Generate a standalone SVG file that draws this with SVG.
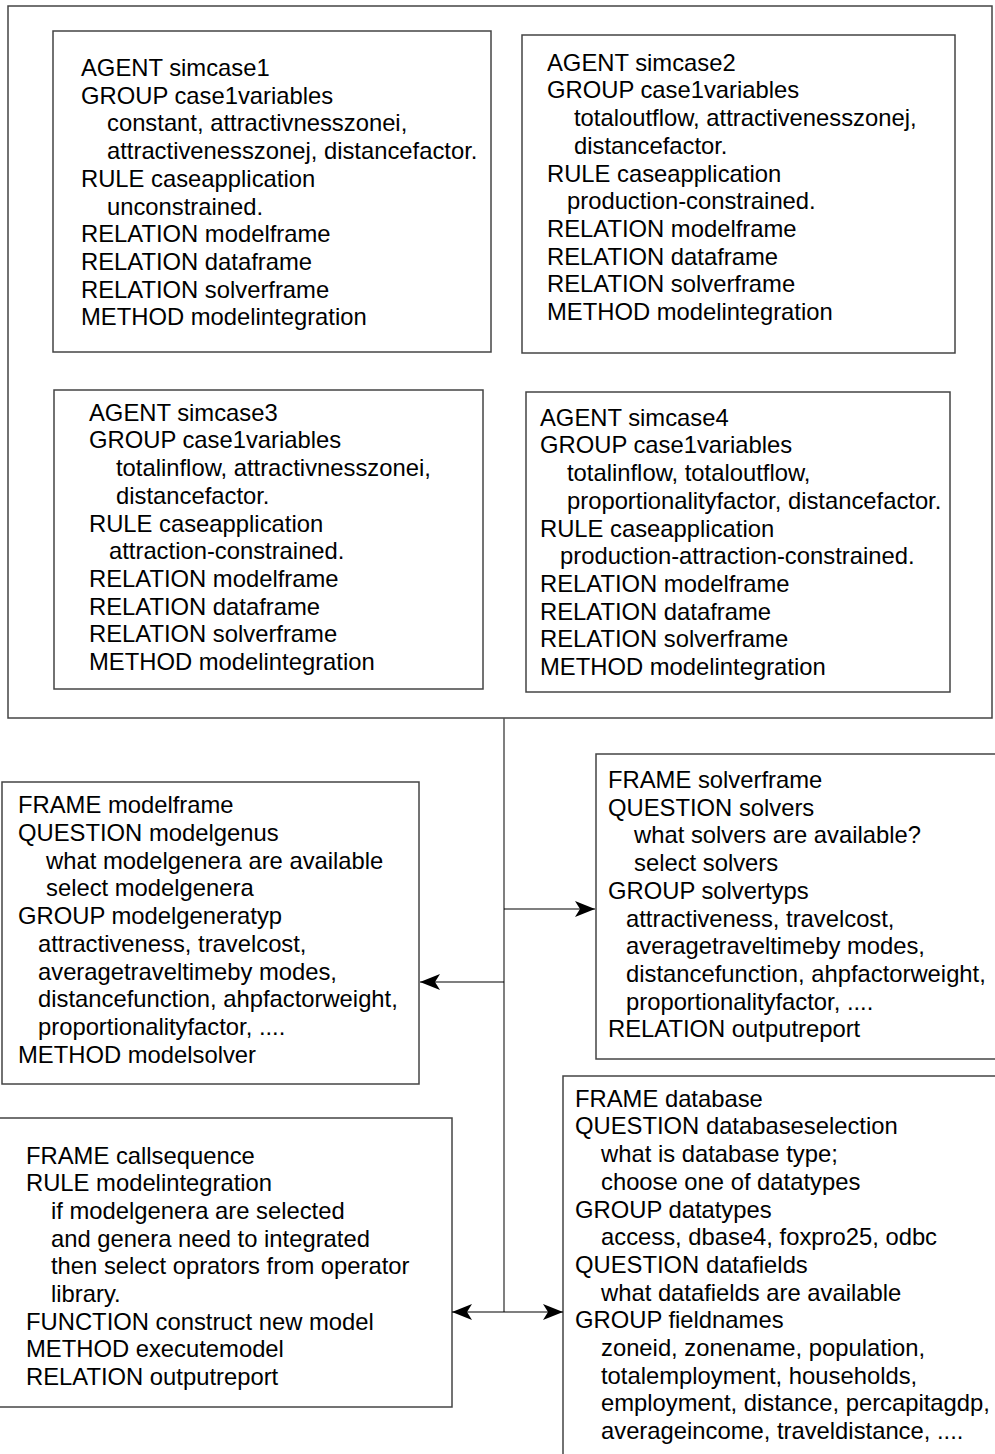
<svg xmlns="http://www.w3.org/2000/svg" width="995" height="1454" viewBox="0 0 995 1454">
<style>
.box{fill:#fff;stroke:#444;stroke-width:1.5}
.t{font-family:"Liberation Sans",Arial,Helvetica,sans-serif;font-size:23.8px;fill:#000}
.conn{stroke:#555;stroke-width:1.5;fill:none}
.arr{stroke:#000;stroke-width:1.2;fill:none}
</style>
<defs>
<marker id="ah" viewBox="0 0 20 16" refX="20" refY="8" markerWidth="20" markerHeight="16" markerUnits="userSpaceOnUse" orient="auto-start-reverse">
<path d="M0,0 L20,8 L0,16 L5,8 Z" fill="#000"/>
</marker>
</defs>
<rect width="995" height="1454" fill="#fff"/>

<g id="agents-container">
<rect class="box" x="8" y="6" width="984" height="712"/>
</g>

<g id="simcase1">
<rect class="box" x="53" y="31" width="438" height="321"/>
<text class="t">
<tspan x="81" y="76">AGENT simcase1</tspan>
<tspan x="81" y="103.7">GROUP case1variables</tspan>
<tspan x="107" y="131.4">constant, attractivnesszonei,</tspan>
<tspan x="107" y="159.1">attractivenesszonej, distancefactor.</tspan>
<tspan x="81" y="186.8">RULE caseapplication</tspan>
<tspan x="107" y="214.5">unconstrained.</tspan>
<tspan x="81" y="242.2">RELATION modelframe</tspan>
<tspan x="81" y="269.9">RELATION dataframe</tspan>
<tspan x="81" y="297.6">RELATION solverframe</tspan>
<tspan x="81" y="325.3">METHOD modelintegration</tspan>
</text>
</g>

<g id="simcase2">
<rect class="box" x="522" y="35" width="433" height="318"/>
<text class="t">
<tspan x="547" y="70.7">AGENT simcase2</tspan>
<tspan x="547" y="98.4">GROUP case1variables</tspan>
<tspan x="574" y="126.1">totaloutflow, attractivenesszonej,</tspan>
<tspan x="574" y="153.8">distancefactor.</tspan>
<tspan x="547" y="181.5">RULE caseapplication</tspan>
<tspan x="567" y="209.2">production-constrained.</tspan>
<tspan x="547" y="236.9">RELATION modelframe</tspan>
<tspan x="547" y="264.6">RELATION dataframe</tspan>
<tspan x="547" y="292.3">RELATION solverframe</tspan>
<tspan x="547" y="320">METHOD modelintegration</tspan>
</text>
</g>

<g id="simcase3">
<rect class="box" x="54" y="390" width="429" height="299"/>
<text class="t">
<tspan x="89" y="420.7">AGENT simcase3</tspan>
<tspan x="89" y="448.4">GROUP case1variables</tspan>
<tspan x="116" y="476.1">totalinflow, attractivnesszonei,</tspan>
<tspan x="116" y="503.8">distancefactor.</tspan>
<tspan x="89" y="531.5">RULE caseapplication</tspan>
<tspan x="109" y="559.2">attraction-constrained.</tspan>
<tspan x="89" y="586.9">RELATION modelframe</tspan>
<tspan x="89" y="614.6">RELATION dataframe</tspan>
<tspan x="89" y="642.3">RELATION solverframe</tspan>
<tspan x="89" y="670">METHOD modelintegration</tspan>
</text>
</g>

<g id="simcase4">
<rect class="box" x="526" y="392" width="424" height="300"/>
<text class="t">
<tspan x="540" y="425.7">AGENT simcase4</tspan>
<tspan x="540" y="453.4">GROUP case1variables</tspan>
<tspan x="567" y="481.1">totalinflow, totaloutflow,</tspan>
<tspan x="567" y="508.8">proportionalityfactor, distancefactor.</tspan>
<tspan x="540" y="536.5">RULE caseapplication</tspan>
<tspan x="560" y="564.2">production-attraction-constrained.</tspan>
<tspan x="540" y="591.9">RELATION modelframe</tspan>
<tspan x="540" y="619.6">RELATION dataframe</tspan>
<tspan x="540" y="647.3">RELATION solverframe</tspan>
<tspan x="540" y="675">METHOD modelintegration</tspan>
</text>
</g>

<g id="modelframe">
<rect class="box" x="2" y="782" width="417" height="302"/>
<text class="t">
<tspan x="18" y="813.3">FRAME modelframe</tspan>
<tspan x="18" y="841">QUESTION modelgenus</tspan>
<tspan x="46" y="868.7">what modelgenera are available</tspan>
<tspan x="46" y="896.4">select modelgenera</tspan>
<tspan x="18" y="924.1">GROUP modelgeneratyp</tspan>
<tspan x="38" y="951.8">attractiveness, travelcost,</tspan>
<tspan x="38" y="979.5">averagetraveltimeby modes,</tspan>
<tspan x="38" y="1007.2">distancefunction, ahpfactorweight,</tspan>
<tspan x="38" y="1034.9">proportionalityfactor, ....</tspan>
<tspan x="18" y="1062.6">METHOD modelsolver</tspan>
</text>
</g>

<g id="solverframe">
<rect class="box" x="596" y="754" width="410" height="305"/>
<text class="t">
<tspan x="608" y="788">FRAME solverframe</tspan>
<tspan x="608" y="815.7">QUESTION solvers</tspan>
<tspan x="634" y="843.4">what solvers are available?</tspan>
<tspan x="634" y="871.1">select solvers</tspan>
<tspan x="608" y="898.8">GROUP solvertyps</tspan>
<tspan x="626" y="926.5">attractiveness, travelcost,</tspan>
<tspan x="626" y="954.2">averagetraveltimeby modes,</tspan>
<tspan x="626" y="981.9">distancefunction, ahpfactorweight,</tspan>
<tspan x="626" y="1009.6">proportionalityfactor, ....</tspan>
<tspan x="608" y="1037.3">RELATION outputreport</tspan>
</text>
</g>

<g id="callsequence">
<rect class="box" x="-5" y="1118" width="457" height="289"/>
<text class="t">
<tspan x="26" y="1163.5">FRAME callsequence</tspan>
<tspan x="26" y="1191.2">RULE modelintegration</tspan>
<tspan x="51" y="1218.9">if modelgenera are selected</tspan>
<tspan x="51" y="1246.6">and genera need to integrated</tspan>
<tspan x="51" y="1274.3">then select oprators from operator</tspan>
<tspan x="51" y="1302">library.</tspan>
<tspan x="26" y="1329.7">FUNCTION construct new model</tspan>
<tspan x="26" y="1357.4">METHOD executemodel</tspan>
<tspan x="26" y="1385.1">RELATION outputreport</tspan>
</text>
</g>

<g id="database">
<rect class="box" x="563" y="1076" width="450" height="400"/>
<text class="t">
<tspan x="575" y="1106.7">FRAME database</tspan>
<tspan x="575" y="1134.4">QUESTION databaseselection</tspan>
<tspan x="601" y="1162.1">what is database type;</tspan>
<tspan x="601" y="1189.8">choose one of datatypes</tspan>
<tspan x="575" y="1217.5">GROUP datatypes</tspan>
<tspan x="601" y="1245.2">access, dbase4, foxpro25, odbc</tspan>
<tspan x="575" y="1272.9">QUESTION datafields</tspan>
<tspan x="601" y="1300.6">what datafields are available</tspan>
<tspan x="575" y="1328.3">GROUP fieldnames</tspan>
<tspan x="601" y="1356">zoneid, zonename, population,</tspan>
<tspan x="601" y="1383.7">totalemployment, households,</tspan>
<tspan x="601" y="1411.4">employment, distance, percapitagdp,</tspan>
<tspan x="601" y="1439.1">averageincome, traveldistance, ....</tspan>
</text>
</g>

<g id="connectors">
<line class="conn" x1="504" y1="718" x2="504" y2="1312"/>
<line class="arr" x1="504" y1="909" x2="595" y2="909" marker-end="url(#ah)"/>
<line class="arr" x1="504" y1="982" x2="420" y2="982" marker-end="url(#ah)"/>
<line class="arr" x1="452" y1="1312" x2="563" y2="1312" marker-start="url(#ah)" marker-end="url(#ah)"/>
</g>
</svg>
